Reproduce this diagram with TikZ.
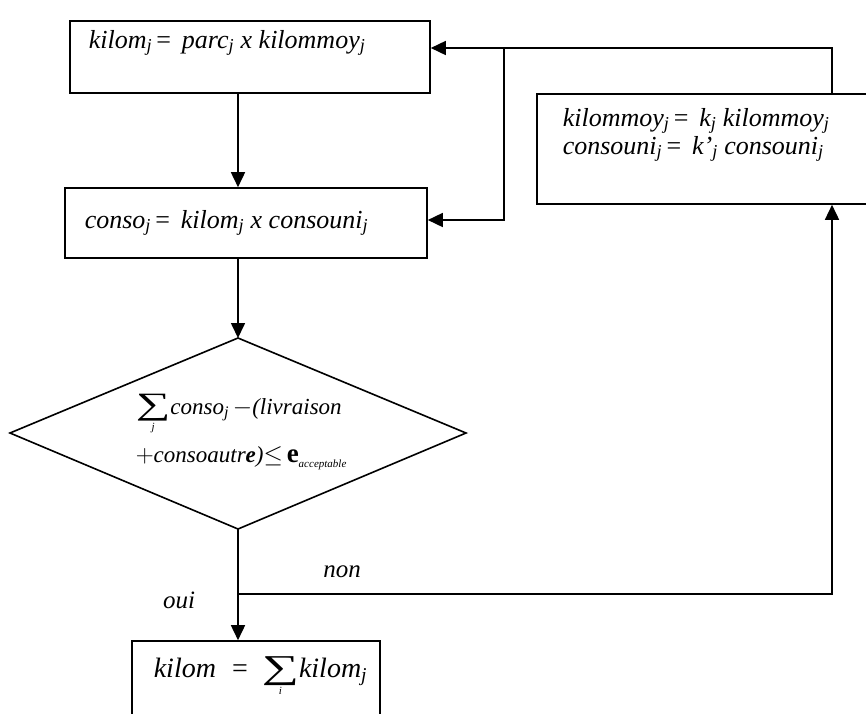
\documentclass[tikz,border=0pt]{standalone}
\usepackage{fontspec}
\setmainfont{Liberation Serif}
\usetikzlibrary{arrows.meta}

% summation sign taken from the text font, widened, with its index set below
\newcommand\sumbelow[2][27]{\ensuremath{\mathop{\vcenter{\hbox{\upshape\fontsize{#1}{#1}\selectfont\scalebox{1.8}[1.15]{∑}}}}\limits_{\hbox{\itshape\fontsize{11}{11}\selectfont #2}}}}

\begin{document}
\begin{tikzpicture}[x=1pt,y=-1pt,
  line width=1.6pt,
  box/.style={draw,inner sep=0pt},
  txt/.style={anchor=base west,inner sep=0pt,font=\fontsize{26}{30}\selectfont\itshape},
  dtxt/.style={anchor=base west,inner sep=0pt,font=\fontsize{23}{27}\selectfont\itshape},
  lbl/.style={anchor=base,inner sep=0pt,font=\fontsize{25}{29}\selectfont\itshape},
  arr/.style={-{Triangle[length=15pt,width=14pt]}}]
\useasboundingbox (0,0) rectangle (866,713);

% process boxes
\node[box,minimum width=360pt,minimum height=72pt] (b1) at (250,57) {};
\node[box,minimum width=362pt,minimum height=70pt] (b2) at (246,223) {};
\node[box,minimum width=340pt,minimum height=110pt] (b3) at (707,149) {};
\node[box,minimum width=248pt,minimum height=90pt] (b4) at (256,686) {};

% decision diamond
\coordinate (dtop) at (238,338);
\coordinate (dbot) at (238,529);
\coordinate (dleft) at (10,433);
\coordinate (dright) at (466,433);
\draw (dtop) -- (dright) -- (dbot) -- (dleft) -- cycle;

% box texts
\node[txt] (t1) at (88,48) {kilom\textsubscript{j}\,{\upshape =}\, parc\textsubscript{j} x kilommoy\textsubscript{j}};
\node[txt] (t2) at (84,228) {conso\textsubscript{j}\,{\upshape =}\, kilom\textsubscript{j} x consouni\textsubscript{j}};
\node[txt] (t3a) at (562,126) {kilommoy\textsubscript{j}\,{\upshape =}\, k\textsubscript{j} kilommoy\textsubscript{j}};
\node[txt] (t3b) at (562,154) {consouni\textsubscript{j}\,{\upshape =}\, k’\textsubscript{j} consouni\textsubscript{j}};
\node[dtxt] (t4a) at (135,414) {\sumbelow{j}conso\textsubscript{j}\,$-$(livraison};
\node[dtxt] (t4b) at (135,462) {$+$consoautr\textbf{e})$\leq$\,{\fontsize{27}{27}\selectfont\bfseries\upshape e}\raisebox{-5pt}{\fontsize{11}{11}\selectfont acceptable}};
\node[txt,font=\fontsize{28}{32}\selectfont\itshape] (t5) at (153,677) {kilom\hspace{16pt}{\upshape =}\hspace{14pt}\sumbelow[29]{i}kilom\textsubscript{j}};

% branch labels
\node[lbl] (non) at (342,577) {non};
\node[lbl] (oui) at (179,608) {oui};

% main flow
\draw[arr] (dtop |- b1.south) -- (dtop |- b2.north);
\draw[arr] (dtop |- b2.south) -- (dtop);
\draw[arr] (dbot) -- (dbot |- b4.north);

% "non" branch back to the adjustment box
\coordinate (split) at (238,594);
\coordinate (rcol) at (832,594);
\draw[arr] (split) -- (rcol) -- (rcol |- b3.south);

% feedback from the adjustment box to the first two boxes
\coordinate (top) at (832,48);
\coordinate (mid) at (504,48);
\coordinate (low) at (504,220);
\draw[arr] (top |- b3.north) -- (top) -- (b1.east |- top);
\draw[arr] (mid) -- (low) -- (b2.east |- low);
\end{tikzpicture}
\end{document}
